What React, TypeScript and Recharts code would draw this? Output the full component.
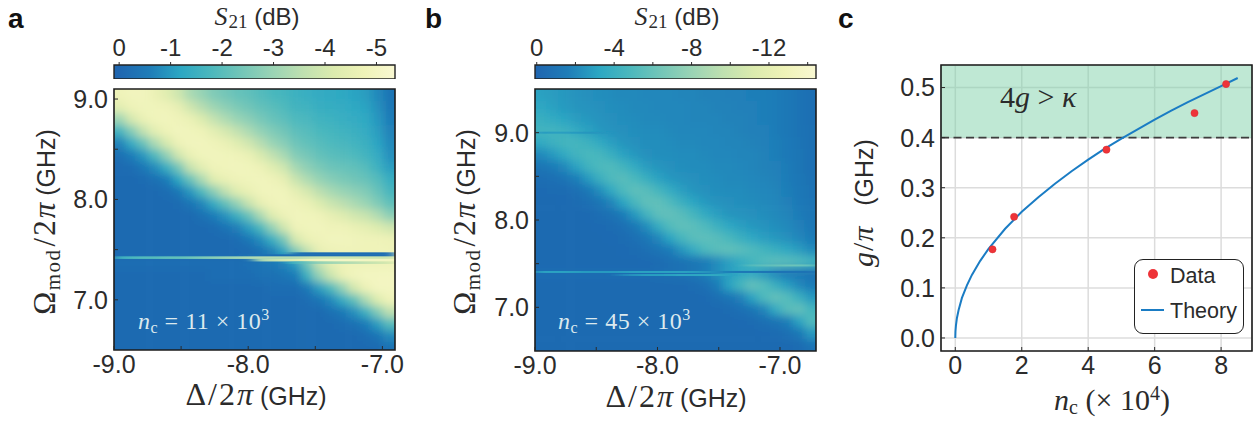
import React from 'react';
import {
  ScatterChart, Scatter, XAxis, YAxis, ReferenceArea, ReferenceLine, ComposedChart, Line,
  CartesianGrid, Legend,
} from 'recharts';

// ---------- Panel a: attenuation in dB (S21 = -value)
const deltaA = [-8.956,-8.869,-8.782,-8.695,-8.607,-8.52,-8.433,-8.346,-8.258,-8.171,-8.084,-7.997,-7.909,-7.822,-7.735,-7.648,-7.56,-7.473,-7.386,-7.299,-7.212,-7.124,-7.037,-6.95];
const omegaA = [9.04,8.92,8.8,8.68,8.56,8.44,8.32,8.2,8.08,7.96,7.84,7.72,7.6,7.48,7.36,7.24,7.12,7.0,6.88,6.76,6.64,6.52];
const depthA = [
  [5.0,5.1,5.1,4.85,4.5,4.05,3.4,3.05,2.7,2.5,2.3,2.2,2.0,1.85,1.75,1.6,1.5,1.4,1.35,1.3,1.2,1.1,0.8,0.4],
  [4.6,4.95,5.07,5.05,5.0,4.7,4.1,3.6,3.2,2.9,2.65,2.45,2.25,2.1,1.95,1.7,1.65,1.5,1.45,1.4,1.3,1.2,0.9,0.5],
  [3.2,4.2,4.8,5.05,5.08,5.0,4.8,4.35,3.85,3.45,3.1,2.85,2.55,2.3,2.15,1.9,1.8,1.65,1.6,1.5,1.4,1.3,1.0,0.6],
  [1.7,2.75,3.8,4.6,4.95,5.1,5.05,4.95,4.6,4.2,3.8,3.4,3.0,2.7,2.45,2.15,2.0,1.85,1.75,1.65,1.55,1.4,1.1,0.7],
  [0.7,1.4,2.3,3.4,4.25,4.9,5.1,5.1,5.0,4.8,4.5,4.1,3.6,3.1,2.8,2.4,2.2,2.05,1.9,1.8,1.7,1.55,1.2,0.8],
  [0.25,0.6,1.0,1.9,2.95,4.1,4.8,5.05,5.1,5.05,5.0,4.8,4.3,3.8,3.35,2.75,2.5,2.25,2.1,2.0,1.9,1.7,1.4,0.9],
  [0.1,0.2,0.45,0.85,1.5,2.5,3.9,4.6,5.0,5.05,5.1,5.05,4.9,4.5,4.05,3.3,2.9,2.6,2.4,2.3,2.2,2.0,1.6,1.1],
  [0.1,0.1,0.15,0.3,0.6,1.25,2.3,3.4,4.5,4.8,5.0,5.05,5.1,5.0,4.7,3.95,3.45,3.05,2.8,2.6,2.45,2.3,2.0,1.5],
  [0.1,0.1,0.1,0.1,0.2,0.5,1.0,1.9,2.85,3.75,4.5,4.8,5.05,5.1,5.05,4.65,4.2,3.7,3.35,3.1,2.9,2.7,2.3,1.8],
  [0.1,0.1,0.1,0.1,0.1,0.15,0.4,0.75,1.4,2.2,3.0,3.9,4.7,5.0,5.1,5.0,4.8,4.4,4.0,3.7,3.4,3.1,2.7,2.2],
  [0.1,0.1,0.1,0.1,0.1,0.1,0.1,0.3,0.6,0.95,1.55,2.3,3.4,4.45,4.9,5.1,5.05,5.0,4.7,4.45,4.15,3.9,3.5,2.9],
  [0.1,0.1,0.1,0.1,0.1,0.1,0.1,0.1,0.15,0.35,0.65,1.1,1.85,3.0,4.1,5.0,5.05,5.1,5.0,5.0,4.8,4.65,4.4,4.1],
  [0.1,0.1,0.1,0.1,0.1,0.1,0.1,0.1,0.1,0.1,0.2,0.45,0.85,1.5,2.5,4.2,4.8,5.0,5.1,5.1,5.05,5.0,5.0,4.9],
  [0.1,0.1,0.1,0.1,0.1,0.1,0.1,0.1,0.1,0.1,0.1,0.1,0.3,0.65,1.2,2.6,3.75,4.7,4.9,5.0,5.0,5.0,5.0,5.0],
  [0.2,0.2,0.2,0.2,0.2,0.2,0.2,0.2,0.2,0.2,0.2,0.3,0.4,0.5,0.7,1.1,2.4,3.8,4.6,4.9,5.0,5.0,5.0,5.0],
  [0.1,0.1,0.1,0.1,0.1,0.1,0.1,0.1,0.2,0.2,0.2,0.2,0.3,0.3,0.4,0.6,1.6,3.0,4.0,4.8,5.1,5.2,5.2,5.2],
  [0.1,0.1,0.1,0.1,0.1,0.1,0.1,0.1,0.1,0.1,0.1,0.1,0.1,0.2,0.2,0.2,0.5,1.1,1.9,3.0,4.2,4.9,5.2,5.2],
  [0.1,0.1,0.1,0.1,0.1,0.1,0.1,0.1,0.1,0.1,0.1,0.1,0.1,0.1,0.1,0.1,0.2,0.4,0.8,1.4,2.2,3.4,4.4,5.0],
  [0.1,0.1,0.1,0.1,0.1,0.1,0.1,0.1,0.1,0.1,0.1,0.1,0.1,0.1,0.1,0.1,0.1,0.1,0.3,0.5,0.9,1.6,2.7,3.7],
  [0.1,0.1,0.1,0.1,0.1,0.1,0.1,0.1,0.1,0.1,0.1,0.1,0.1,0.1,0.1,0.1,0.1,0.1,0.1,0.2,0.3,0.6,1.1,2.0],
  [0.1,0.1,0.1,0.1,0.1,0.1,0.1,0.1,0.1,0.1,0.1,0.1,0.1,0.1,0.1,0.1,0.1,0.1,0.1,0.1,0.1,0.2,0.4,0.8],
  [0.1,0.1,0.1,0.1,0.1,0.1,0.1,0.1,0.1,0.1,0.1,0.1,0.1,0.1,0.1,0.1,0.1,0.1,0.1,0.1,0.1,0.1,0.1,0.3],
];
// narrow features around the avoided crossing: [omega, depth per column of deltaA, null = absent]
const n = null;
const linesOmegaA = [7.46, 7.44, 7.42, 7.395, 7.37];
const linesDepthA = [
  [n,n,n,n,n,n,n,n,n,n,n,n,n,n,n,0.4,0.2,0.2,0.2,0.2,0.2,0.2,0.2,0.2],
  [n,n,n,n,n,n,n,n,n,n,n,0.3,0.3,0.2,0.2,0.2,0.2,0.2,0.2,0.2,0.2,0.2,0.2,0.2],
  [1.6,1.8,2.0,2.0,2.2,2.2,2.4,2.6,2.8,3.0,3.2,3.4,3.6,3.6,3.6,3.6,3.8,4.0,4.0,4.0,4.0,4.0,4.0,4.0],
  [n,n,n,n,n,n,n,n,n,n,n,n,3.4,3.8,4.2,4.6,5.0,5.2,5.3,5.3,5.3,5.2,5.2,5.2],
  [n,n,n,n,n,n,n,n,n,n,n,n,n,n,n,1.6,2.4,3.0,3.2,3.4,3.6,3.8,4.0,4.2],
];

// ---------- Panel b
const deltaB = [-8.952,-8.856,-8.761,-8.665,-8.569,-8.473,-8.378,-8.282,-8.186,-8.09,-7.995,-7.899,-7.803,-7.707,-7.612,-7.516,-7.42,-7.324,-7.229,-7.133,-7.037,-6.941,-6.846,-6.75];
const omegaB = [9.432,9.295,9.159,9.023,8.886,8.75,8.614,8.477,8.341,8.205,8.068,7.932,7.795,7.659,7.523,7.386,7.25,7.114,6.977,6.841,6.705,6.568];
const depthB = [
  [3.3,3.1,2.9,2.7,2.6,2.5,2.4,2.3,2.3,2.2,2.2,2.2,2.1,2.1,2.0,2.0,1.9,1.9,1.8,1.8,1.7,1.4,1.0,0.6],
  [3.6,3.3,3.0,2.8,2.7,2.6,2.5,2.4,2.3,2.3,2.2,2.2,2.2,2.1,2.1,2.0,2.0,1.9,1.9,1.8,1.7,1.4,1.0,0.6],
  [4.3,3.9,3.5,3.1,2.9,2.7,2.6,2.5,2.4,2.3,2.3,2.2,2.2,2.1,2.1,2.1,2.0,2.0,1.9,1.8,1.7,1.4,1.0,0.6],
  [4.8,4.8,4.5,3.9,3.3,2.9,2.7,2.6,2.5,2.4,2.4,2.3,2.2,2.2,2.2,2.1,2.1,2.0,1.9,1.9,1.7,1.4,1.0,0.7],
  [3.9,4.5,5.0,5.0,4.6,3.9,3.2,2.8,2.6,2.5,2.5,2.4,2.3,2.3,2.2,2.2,2.1,2.1,2.0,1.9,1.8,1.5,1.1,0.7],
  [2.3,3.0,3.9,4.8,5.3,5.1,4.3,3.4,2.9,2.6,2.5,2.5,2.4,2.4,2.3,2.2,2.2,2.1,2.1,2.0,1.8,1.5,1.2,0.8],
  [1.2,1.6,2.3,3.4,4.7,5.4,5.6,4.9,3.9,3.1,2.8,2.6,2.5,2.4,2.4,2.3,2.3,2.2,2.1,2.0,1.9,1.6,1.2,0.8],
  [0.6,0.8,1.1,1.8,3.0,4.4,5.5,5.9,5.3,4.3,3.4,2.9,2.7,2.6,2.5,2.4,2.3,2.3,2.2,2.1,2.0,1.7,1.3,0.9],
  [0.4,0.5,0.5,0.8,1.4,2.5,3.9,5.4,6.2,5.9,5.0,4.0,3.2,2.8,2.6,2.5,2.4,2.4,2.3,2.2,2.1,1.8,1.4,1.0],
  [0.3,0.3,0.4,0.5,0.7,1.2,2.1,3.5,5.2,6.3,6.3,5.5,4.4,3.5,3.0,2.7,2.6,2.5,2.4,2.3,2.2,1.9,1.5,1.1],
  [0.3,0.3,0.3,0.3,0.4,0.6,0.9,1.7,3.0,4.8,6.2,6.4,5.9,5.0,3.9,3.2,2.8,2.7,2.6,2.5,2.3,2.1,1.7,1.2],
  [0.3,0.3,0.3,0.3,0.3,0.4,0.5,0.8,1.4,2.5,4.1,5.7,6.3,6.1,5.5,4.5,3.7,3.2,2.9,2.7,2.5,2.3,1.9,1.4],
  [0.3,0.3,0.3,0.3,0.3,0.3,0.4,0.5,0.8,1.3,2.2,3.5,5.1,6.0,6.2,5.9,5.2,4.4,3.7,3.2,2.9,2.6,2.2,1.6],
  [0.3,0.3,0.3,0.3,0.3,0.3,0.3,0.4,0.5,0.7,1.1,1.7,2.8,4.0,5.4,6.0,6.3,6.0,5.5,4.9,4.3,3.7,3.1,2.4],
  [0.3,0.3,0.3,0.3,0.3,0.3,0.3,0.3,0.3,0.4,0.5,0.7,0.9,1.2,1.7,2.4,3.2,4.1,5.0,5.7,6.0,5.9,5.5,4.8],
  [0.5,0.5,0.5,0.5,0.5,0.5,0.5,0.5,0.5,0.5,0.6,0.7,0.9,1.2,1.8,2.5,3.2,3.8,3.8,3.0,2.2,1.7,1.4,1.1],
  [0.3,0.3,0.3,0.3,0.3,0.3,0.3,0.3,0.3,0.3,0.3,0.3,0.3,0.5,0.8,1.6,3.4,5.0,6.4,5.8,4.4,3.2,2.3,1.6],
  [0.3,0.3,0.3,0.3,0.3,0.3,0.3,0.3,0.3,0.3,0.3,0.3,0.3,0.3,0.4,0.7,1.1,1.9,3.4,5.4,6.4,5.8,4.4,3.0],
  [0.3,0.3,0.3,0.3,0.3,0.3,0.3,0.3,0.3,0.3,0.3,0.3,0.3,0.3,0.3,0.3,0.5,0.8,1.2,2.1,4.0,5.9,6.4,5.0],
  [0.3,0.3,0.3,0.3,0.3,0.3,0.3,0.3,0.3,0.3,0.3,0.3,0.3,0.3,0.3,0.3,0.3,0.4,0.5,0.7,1.1,1.8,3.4,5.6],
  [0.3,0.3,0.3,0.3,0.3,0.3,0.3,0.3,0.3,0.3,0.3,0.3,0.3,0.3,0.3,0.3,0.3,0.3,0.3,0.4,0.5,0.8,1.4,3.0],
  [0.3,0.3,0.3,0.3,0.3,0.3,0.3,0.3,0.3,0.3,0.3,0.3,0.3,0.3,0.3,0.3,0.3,0.3,0.3,0.3,0.3,0.3,0.5,1.0],
];
const linesOmegaB = [9.0, 7.48, 7.405, 7.37];
const linesDepthB = [
  [3.0,3.2,3.2,3.0,2.8,2.8,n,n,n,n,n,n,n,n,n,n,n,n,n,n,n,n,n,n],
  [n,n,n,n,n,n,n,n,n,n,n,n,n,n,n,n,n,n,5.8,6.2,6.5,6.8,6.8,6.2],
  [3.4,3.4,3.4,3.2,3.0,3.0,3.0,3.2,3.4,3.4,3.4,3.4,3.4,3.2,2.8,2.4,1.8,1.4,1.4,1.2,1.0,1.0,1.0,0.9],
  [n,n,n,n,n,n,n,2.2,2.8,3.2,3.2,3.4,3.6,3.6,3.8,3.8,3.4,n,n,n,n,n,n,n],
];

// ---------- Panel c
const dataX = [1.12, 1.77, 4.55, 7.2, 8.15];
const dataY = [0.177, 0.242, 0.376, 0.449, 0.507];
const theoryX = [0,0.005,0.02,0.05,0.1,0.2,0.35,0.5,0.75,1,1.5,2,2.5,3,3.5,4,4.5,5,5.5,6,6.5,7,7.5,8,8.5];
const theoryY = [0,0.013,0.025,0.04,0.056,0.08,0.105,0.126,0.154,0.178,0.218,0.252,0.281,0.308,0.333,0.356,0.378,0.398,0.417,0.436,0.454,0.471,0.487,0.503,0.519];

// ---------- colour scale
const cmap = ['#1f66b0','#1f7db8','#2ca7c3','#4bb8bd','#73c6b8','#9ad4b5','#bfe0b0','#dcebae','#eff3b8','#f9f8d2'];
function hex(c: string) { return [1,3,5].map((i) => parseInt(c.slice(i, i + 2), 16)); }
function colorOf(t: number) {
  const s = Math.max(0, Math.min(0.9999, t)) * (cmap.length - 1);
  const i = Math.floor(s); const f = s - i;
  const a = hex(cmap[i]); const b = hex(cmap[i + 1]);
  return `rgb(${a.map((v, k) => Math.round(v + (b[k] - v) * f)).join(',')})`;
}

const SANS = '"Liberation Sans", Arial, sans-serif';
const SERIF = '"Liberation Serif", "DejaVu Serif", serif';
const INK = '#2b2b2b';

function toCells(ds: number[], os: number[], m: (number | null)[][]) {
  const out: any[] = [];
  os.forEach((w, r) => ds.forEach((d, c) => {
    const v = m[r][c];
    if (v != null) out.push({ d, w, v, c, r });
  }));
  return out;
}

function HeatPanel(props: any) {
  const { id, left, xDomain, yDomain, ds, os, depth, lOs, lDepth, vMax, plotW, plotH, lineH } = props;
  const cw = (plotW / (xDomain[1] - xDomain[0])) * (ds[1] - ds[0]);
  const ch = (plotH / (yDomain[1] - yDomain[0])) * (os[0] - os[1]);
  const nc = ds.length - 1; const nr = os.length - 1;
  const PAD = 16;
  const cell = (p: any) => {
    const q = p.payload || p;
    const x0 = p.cx - cw / 2 - (q.c === 0 ? PAD : 0);
    const x1 = p.cx + cw / 2 + (q.c === nc ? PAD : 0) + 0.6;
    const y0 = p.cy - ch / 2 - (q.r === 0 ? PAD : 0);
    const y1 = p.cy + ch / 2 + (q.r === nr ? PAD : 0) + 0.6;
    return <rect x={x0} y={y0} width={x1 - x0} height={y1 - y0} fill={colorOf(q.v / vMax)} />;
  };
  const thin = (p: any) => {
    const q = p.payload || p;
    return <rect x={p.cx - cw / 2} y={p.cy - lineH / 2} width={cw + 0.6} height={lineH} fill={colorOf(q.v / vMax)} />;
  };
  return (
    <div style={{ position: 'absolute', left, top: 89 }}>
      <ScatterChart width={plotW} height={plotH} margin={{ top: 0, right: 0, bottom: 0, left: 0 }}>
        <defs>
          <filter id={`soft${id}`} x="-10%" y="-10%" width="120%" height="120%">
            <feGaussianBlur stdDeviation="4.2" />
          </filter>
          <filter id={`line${id}`} x="-10%" y="-50%" width="120%" height="200%">
            <feGaussianBlur stdDeviation="6 0.45" />
          </filter>
        </defs>
        <style>{`.soft${id}{filter:url(#soft${id})} .line${id}{filter:url(#line${id})}`}</style>
        <XAxis hide type="number" dataKey="d" domain={xDomain} allowDataOverflow={false} />
        <YAxis hide type="number" dataKey="w" domain={yDomain} allowDataOverflow={false} />
        <Scatter className={`soft${id}`} data={toCells(ds, os, depth)} shape={cell} isAnimationActive={false} />
        <Scatter className={`line${id}`} data={toCells(ds, lOs, lDepth)} shape={thin} isAnimationActive={false} />
      </ScatterChart>
    </div>
  );
}

function Frame(props: any) {
  const { left, width, plotLeft, plotRight, plotBottom, xDomain, yDomain, xTicks, yTicks, children, xMajor, yMajor } = props;
  return (
    <div style={{ position: 'absolute', left, top: 0 }}>
      <ScatterChart width={width} height={421} margin={{ top: 89, right: width - plotRight, bottom: 0, left: 0 }}>
        <XAxis type="number" dataKey="x" domain={xDomain} ticks={xTicks} interval={0} height={421 - plotBottom}
          tickSize={-4} tickMargin={9} tickFormatter={(v: number) => (xMajor.includes(v) ? v.toFixed(1) : '')}
          axisLine={false} stroke={INK} allowDataOverflow
          tick={{ fontSize: 25, fontFamily: SANS, fill: INK }} />
        <YAxis type="number" dataKey="y" domain={yDomain} ticks={yTicks} interval={0} width={plotLeft}
          tickSize={-4} tickMargin={10} tickFormatter={(v: number) => (yMajor.includes(v) ? v.toFixed(1) : '')}
          axisLine={false} stroke={INK} allowDataOverflow
          tick={{ fontSize: 25, fontFamily: SANS, fill: INK }} />
        <ReferenceArea x1={xDomain[0]} x2={xDomain[1]} y1={yDomain[0]} y2={yDomain[1]} fill="none" stroke="#1c1c1c" strokeWidth={1.6} fillOpacity={0} ifOverflow="visible" />
        {children}
      </ScatterChart>
    </div>
  );
}

function ColorBar(props: any) {
  const { id, left, width, domain, ticks, major } = props;
  const span = domain[1] - domain[0];
  const stops = cmap.map((c, i) => {
    const v = (i / (cmap.length - 1)) * props.vMax;
    return { off: (v - domain[0]) / span, c };
  });
  return (
    <div style={{ position: 'absolute', left: left - 20, top: 28 }}>
      <ScatterChart width={width + 40} height={51} margin={{ top: 0, right: 20, bottom: 0, left: 20 }}>
        <defs>
          <linearGradient id={`cb${id}`} x1="0" y1="0" x2="1" y2="0">
            {stops.map((s) => <stop key={s.off} offset={Math.max(0, Math.min(1, s.off))} stopColor={s.c} />)}
          </linearGradient>
        </defs>
        <XAxis orientation="top" type="number" dataKey="x" domain={domain} ticks={ticks} interval={0} height={37}
          tickSize={3} tickMargin={6} axisLine={false} stroke={INK} allowDataOverflow
          tickFormatter={(v: number) => (major.includes(v) ? (v === 0 ? '0' : `-${v}`) : '')}
          tick={{ fontSize: 24, fontFamily: SANS, fill: INK }} />
        <YAxis hide type="number" dataKey="y" domain={[0, 1]} width={0} allowDataOverflow />
        <ReferenceArea x1={domain[0]} x2={domain[1]} y1={0} y2={1} fill={`url(#cb${id})`} fillOpacity={1} stroke="#222" strokeWidth={1.4} ifOverflow="visible" />
      </ScatterChart>
    </div>
  );
}

function OmegaLabel({ x, y }: { x: number; y: number }) {
  return (
    <text transform={`rotate(-90 ${x} ${y})`} x={x} y={y} textAnchor="middle" fill={INK}>
      <tspan fontFamily={SERIF} fontSize={31} letterSpacing={1.5}>Ω</tspan>
      <tspan fontFamily={SERIF} fontSize={21} dy={5} letterSpacing={1.5}>mod</tspan>
      <tspan fontFamily={SERIF} fontSize={31} dy={-5} dx={2} letterSpacing={2}>/2</tspan>
      <tspan fontFamily={SERIF} fontSize={31} fontStyle="italic">π</tspan>
      <tspan fontFamily={SANS} fontSize={25}> (GHz)</tspan>
    </text>
  );
}
function DeltaLabel({ x, y }: { x: number; y: number }) {
  return (
    <text x={x} y={y} textAnchor="middle" fill={INK}>
      <tspan fontFamily={SERIF} fontSize={32} letterSpacing={2}>Δ/2</tspan>
      <tspan fontFamily={SERIF} fontSize={32} fontStyle="italic">π</tspan>
      <tspan fontFamily={SANS} fontSize={25}> (GHz)</tspan>
    </text>
  );
}
function S21Label({ x }: { x: number }) {
  return (
    <text x={x} y={25} textAnchor="middle" fill={INK}>
      <tspan fontFamily={SERIF} fontSize={26} fontStyle="italic" letterSpacing={1}>S</tspan>
      <tspan fontFamily={SERIF} fontSize={19} dy={3}>21</tspan>
      <tspan fontFamily={SANS} fontSize={24} dy={-3}> (dB)</tspan>
    </text>
  );
}
function NcNote({ x, value }: { x: number; value: string }) {
  return (
    <text x={x} y={329} fill="#dbe9ee" fontFamily={SERIF} fontSize={24} letterSpacing={0.5}>
      <tspan fontStyle="italic">n</tspan>
      <tspan fontSize={16} dy={4}>c</tspan>
      <tspan dy={-4}>{` = ${value} × 10`}</tspan>
      <tspan fontSize={16} dy={-9}>3</tspan>
    </text>
  );
}
function Letter({ x, ch }: { x: number; ch: string }) {
  return <text x={x} y={28} fontFamily={SANS} fontWeight={700} fontSize={28} fill="#111">{ch}</text>;
}

const legendBox = () => (
  <div style={{ width: 108, height: 73, border: '1.4px solid #222', borderRadius: 9, background: '#fff', fontFamily: SANS, fontSize: 21.5, color: INK, position: 'relative' }}>
    <span style={{ position: 'absolute', left: 13, top: 9, width: 10, height: 10, borderRadius: 5, background: '#ee3338' }} />
    <span style={{ position: 'absolute', left: 35, top: 4 }}>Data</span>
    <span style={{ position: 'absolute', left: 6, top: 49, width: 23, height: 2, background: '#1a7cc4' }} />
    <span style={{ position: 'absolute', left: 35, top: 39 }}>Theory</span>
  </div>
);

const redDot = (p: any) => <circle cx={p.cx} cy={p.cy} r={3.6} fill="#ee3338" stroke="#d82a2e" strokeWidth={0.5} />;

export default function App() {
  const points = dataX.map((x, i) => ({ x, y: dataY[i] }));
  const curve = theoryX.map((x, i) => ({ x, y: theoryY[i] }));
  const xDomA = [-9, -6.906]; const yDomA = [6.5, 9.1];
  const xDomB = [-9, -6.706]; const yDomB = [6.5, 9.5];
  const xDomC = [-0.43, 8.93]; const yDomC = [-0.026, 0.545];
  return (
    <div style={{ position: 'absolute', left: 0, top: 0, width: 1254, height: 421, overflow: 'hidden', background: '#fff' }}>
      <HeatPanel id="A" left={114} xDomain={xDomA} yDomain={yDomA} ds={deltaA} os={omegaA} depth={depthA} lOs={linesOmegaA} lDepth={linesDepthA} vMax={5.6} plotW={281} plotH={261} lineH={2.6} />
      <HeatPanel id="B" left={535} xDomain={xDomB} yDomain={yDomB} ds={deltaB} os={omegaB} depth={depthB} lOs={linesOmegaB} lDepth={linesDepthB} vMax={16} plotW={281} plotH={262} lineH={2} />

      <Frame left={0} width={420} plotLeft={114} plotRight={395} plotBottom={350} xDomain={xDomA} yDomain={yDomA}
        xTicks={[-9, -8.5, -8, -7.5, -7]} yTicks={[7, 7.5, 8, 8.5, 9]} xMajor={[-9, -8, -7]} yMajor={[7, 8, 9]}>
        <Letter x={8} ch="a" />
        <S21Label x={257} />
        <OmegaLabel x={55} y={222} />
        <DeltaLabel x={256} y={405} />
        <NcNote x={138} value="11" />
      </Frame>
      <Frame left={420} width={420} plotLeft={115} plotRight={396} plotBottom={351} xDomain={xDomB} yDomain={yDomB}
        xTicks={[-9, -8.5, -8, -7.5, -7]} yTicks={[7, 7.5, 8, 8.5, 9]} xMajor={[-9, -8, -7]} yMajor={[7, 8, 9]}>
        <Letter x={5} ch="b" />
        <S21Label x={257} />
        <OmegaLabel x={55} y={222} />
        <DeltaLabel x={256} y={407} />
        <NcNote x={138} value="45" />
      </Frame>

      <ColorBar id="A" left={114} width={281} domain={[-0.1, 5.36]} ticks={[0, 1, 2, 3, 4, 5]} major={[0, 1, 2, 3, 4, 5]} vMax={5.36} />
      <ColorBar id="B" left={535} width={281} domain={[-0.09, 14.43]} ticks={[0, 2, 4, 6, 8, 10, 12, 14]} major={[0, 4, 8, 12]} vMax={14.43} />

      <div style={{ position: 'absolute', left: 830, top: 0 }}>
        <ComposedChart width={424} height={421} margin={{ top: 65, right: 2, bottom: 0, left: 0 }}>
          <CartesianGrid stroke="#dcdcdc" strokeWidth={1.5} />
          <XAxis type="number" dataKey="x" domain={xDomC} ticks={[0, 2, 4, 6, 8]} interval={0} height={70}
            tickSize={-4} tickMargin={9} axisLine={false} stroke={INK} allowDataOverflow
            tick={{ fontSize: 25, fontFamily: SANS, fill: INK }} />
          <YAxis type="number" dataKey="y" domain={yDomC} ticks={[0, 0.1, 0.2, 0.3, 0.4, 0.5]} interval={0} width={111}
            tickSize={-4} tickMargin={10} axisLine={false} stroke={INK} allowDataOverflow
            tickFormatter={(v: number) => v.toFixed(1)}
            tick={{ fontSize: 25, fontFamily: SANS, fill: INK }} />
          <ReferenceArea x1={xDomC[0]} x2={xDomC[1]} y1={0.4} y2={yDomC[1]} fill="#79cfa6" fillOpacity={0.48} strokeOpacity={0} />
          <ReferenceLine y={0.4} stroke="#3d3d3d" strokeWidth={1.6} strokeDasharray="8 4.5" />
          <Line name="Theory" data={curve} dataKey="y" stroke="#1a7cc4" strokeWidth={2} dot={false} isAnimationActive={false} type="linear" />
          <Scatter name="Data" data={points} dataKey="y" shape={redDot} isAnimationActive={false} />
          <ReferenceArea x1={xDomC[0]} x2={xDomC[1]} y1={yDomC[0]} y2={yDomC[1]} fill="none" fillOpacity={0} stroke="#1c1c1c" strokeWidth={1.6} ifOverflow="visible" />
          <Legend content={legendBox} layout="horizontal" verticalAlign="middle" align="center" wrapperStyle={{ left: 304, top: 259, width: 110 }} />
          <Letter x={8} ch="c" />
          <text transform="rotate(-90 43 203)" x={43} y={203} textAnchor="middle" fill={INK}>
            <tspan fontFamily={SERIF} fontSize={30} fontStyle="italic" letterSpacing={1}>g</tspan>
            <tspan fontFamily={SERIF} fontSize={30} letterSpacing={1}>/</tspan>
            <tspan fontFamily={SERIF} fontSize={30} fontStyle="italic">π</tspan>
            <tspan fontFamily={SANS} fontSize={25}>{'\u00a0\u00a0\u00a0(GHz)'}</tspan>
          </text>
          <text x={282} y={410} textAnchor="middle" fill={INK} fontFamily={SERIF} fontSize={30}>
            <tspan fontStyle="italic">n</tspan>
            <tspan fontSize={20} dy={4}>c</tspan>
            <tspan dy={-4}>{' (× 10'}</tspan>
            <tspan fontSize={20} dy={-10}>4</tspan>
            <tspan dy={10}>)</tspan>
          </text>
        </ComposedChart>
      </div>
      <svg width={100} height={50} style={{ position: 'absolute', left: 990, top: 80 }}>
        <text x={10} y={27} fill={INK} fontFamily={SERIF} fontSize={30}>
          <tspan>4</tspan><tspan fontStyle="italic">g</tspan><tspan>{' > '}</tspan><tspan fontStyle="italic">κ</tspan>
        </text>
      </svg>
    </div>
  );
}
